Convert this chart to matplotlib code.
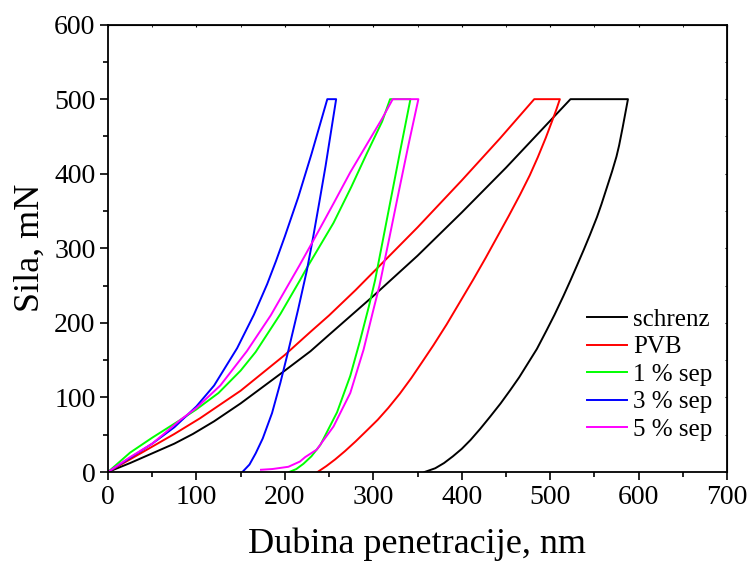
# Sila vs dubina penetracije (nanoindentation curves)
import matplotlib
matplotlib.use('Agg')
import matplotlib.pyplot as plt
from matplotlib.ticker import MultipleLocator

plt.rcParams['font.family'] = ['Liberation Serif', 'DejaVu Serif']

# data: loading branch, then unloading branch (hold = the flat bit at 500 mN)
schrenz_h_load = [0, 25, 50, 75, 96, 120, 150, 200, 229, 250, 300, 350, 400, 450, 500, 523]
schrenz_f_load = [0, 12, 25, 38, 51, 68, 92, 136, 162, 184, 236, 290, 348, 408, 471, 500]
schrenz_h_unload = [588, 585, 582, 578, 575, 570, 564, 558, 553, 545, 538, 530, 523, 515, 505,
                    496, 485, 475, 465, 455, 444, 432, 421, 410, 400, 390, 380, 370, 358]
schrenz_f_unload = [500, 481, 462, 438, 423, 403, 381, 359, 342, 318, 298, 276, 257, 236, 211,
                    190, 165, 146, 127, 110, 92, 74, 58, 43, 31, 21, 12, 5, 0]

pvb_h_load = [0, 25, 50, 75, 104, 150, 200, 229, 250, 280, 300, 350, 400, 443, 482]
pvb_f_load = [0, 17, 34, 51, 72, 109, 157, 188, 210, 244, 268, 328, 391, 447, 500]
pvb_h_unload = [511, 507, 502, 495, 486, 477, 466, 453, 440, 427, 413, 398, 383, 368, 355,
                343, 330, 317, 305, 293, 280, 268, 257, 247, 237]
pvb_f_unload = [500, 486, 470, 448, 422, 398, 372, 343, 315, 287, 258, 228, 198, 170, 147,
                126, 105, 86, 70, 56, 41, 28, 17, 8, 0]

sep1_h_load = [0, 25, 50, 82, 100, 125, 150, 167, 195, 217, 225, 255, 275, 293, 310, 319]
sep1_f_load = [0, 26, 46, 70, 84, 106, 136, 161, 212, 257, 274, 334, 382, 428, 470, 500]
sep1_h_unload = [342, 331, 321, 312, 302, 295, 285, 274, 259, 240, 230, 221, 213, 205]
sep1_f_unload = [500, 434, 373, 318, 257, 222, 176, 129, 80, 36, 21, 11, 4, 0]

sep3_h_load = [0, 25, 50, 75, 100, 120, 146, 165, 180, 190, 200, 215, 230, 248]
sep3_f_load = [0, 19, 38, 60, 88, 116, 166, 211, 252, 283, 316, 368, 426, 500]
sep3_h_unload = [258, 252, 246, 239, 232, 225, 215, 204, 195, 185.5, 175, 167, 160, 152]
sep3_f_unload = [500, 455, 410, 362, 315, 271, 218, 163, 120, 79, 45, 25, 10, 0]

sep5_h_load = [0, 25, 50, 82, 100, 127, 157, 184, 216, 232, 255, 274, 293, 310, 322]
sep5_f_load = [0, 20, 38, 70, 86, 116, 162, 210, 276, 310, 360, 402, 440, 474, 500]
sep5_h_unload = [351, 340, 329, 318, 307, 300, 289, 274, 255, 236, 223, 217, 204, 186, 173]
sep5_f_unload = [500, 440, 377, 313, 250, 217, 164, 106, 61, 30, 20, 14, 7, 4, 3]

labels = ['schrenz', 'PVB', '1 % sep', '3 % sep', '5 % sep']
colors = ['black', '#ff0000', '#00ff00', '#0000ff', '#ff00ff']

curves = [
    (schrenz_h_load + schrenz_h_unload, schrenz_f_load + schrenz_f_unload),
    (pvb_h_load + pvb_h_unload, pvb_f_load + pvb_f_unload),
    (sep1_h_load + sep1_h_unload, sep1_f_load + sep1_f_unload),
    (sep3_h_load + sep3_h_unload, sep3_f_load + sep3_f_unload),
    (sep5_h_load + sep5_h_unload, sep5_f_load + sep5_f_unload),
]

fig = plt.figure(figsize=(7.5, 5.63), dpi=100)
ax = fig.add_axes([108 / 750, 91 / 563, 619 / 750, 447.4 / 563])

for (h, f), lab, c in zip(curves, labels, colors):
    ax.plot(h, f, color=c, lw=1.4, label=lab)

ax.set_xlim(0, 700)
ax.set_ylim(0, 600)
ax.xaxis.set_major_locator(MultipleLocator(100))
ax.xaxis.set_minor_locator(MultipleLocator(50))
ax.yaxis.set_major_locator(MultipleLocator(100))
ax.yaxis.set_minor_locator(MultipleLocator(50))

ax.tick_params(which='major', direction='out', length=6, width=1.2, labelsize=20, pad=3)
ax.tick_params(which='minor', direction='out', length=3.5, width=1.2)
for s in ax.spines.values():
    s.set_linewidth(1.3)

# tiny inner ticks on top/right like the original
ax2 = ax.secondary_xaxis('top')
ax2.xaxis.set_major_locator(MultipleLocator(100))
ax2.xaxis.set_minor_locator(MultipleLocator(50))
ax2.tick_params(which='both', direction='in', length=1.5, labeltop=False)
ay2 = ax.secondary_yaxis('right')
ay2.yaxis.set_major_locator(MultipleLocator(100))
ay2.yaxis.set_minor_locator(MultipleLocator(50))
ay2.tick_params(which='both', direction='in', length=1.5, labelright=False)

ax.set_xlabel('Dubina penetracije, nm', fontsize=26, labelpad=13)
ax.set_ylabel('Sila, mN', fontsize=26, labelpad=5)

ax.legend(loc='upper left', bbox_to_anchor=(0.774, 0.366), frameon=False,
          fontsize=18, handlelength=1.6, handletextpad=0.25, labelspacing=0.2,
          borderpad=0, borderaxespad=0)

fig.savefig('out.png', dpi=100)
